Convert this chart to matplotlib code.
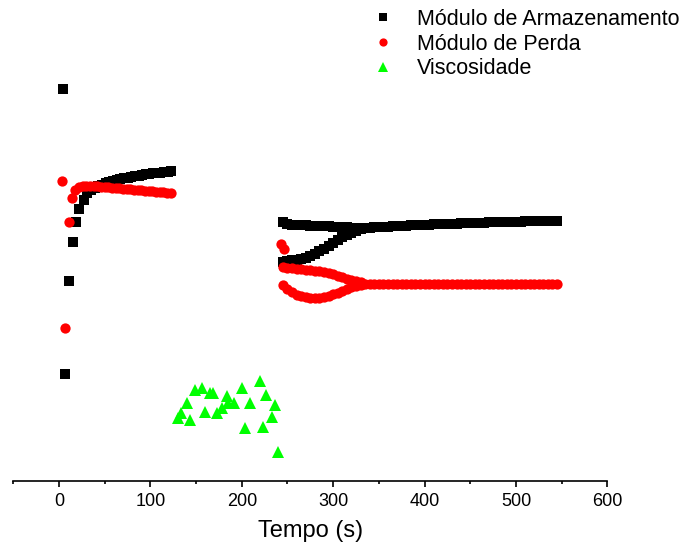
import matplotlib
matplotlib.use("Agg")
import matplotlib.pyplot as plt
from matplotlib.ticker import MultipleLocator

plt.rcParams['font.family'] = ['Liberation Sans', 'DejaVu Sans']

# Módulo de Armazenamento (first run, 0-122 s)
arm1_t = [4, 7, 11, 15, 19, 22, 27, 31,
          35, 39, 43, 47, 51, 55, 59, 63, 67, 71, 75, 79, 83, 87, 91, 95, 99, 103, 107, 111, 115, 119,
          122]
arm1_y = [3.92, 1.07, 2.00, 2.39, 2.59, 2.72, 2.81, 2.88,
          2.91, 2.93, 2.95, 2.96, 2.98, 2.99, 3.00, 3.01, 3.02, 3.03, 3.03, 3.04, 3.05, 3.05, 3.06, 3.07,
          3.07, 3.08, 3.08, 3.08, 3.09, 3.09,
          3.10]

# Módulo de Perda (first run)
per1_t = [3, 6, 11, 14, 18,
          22, 26, 30, 34, 38, 42, 46, 50, 54, 58, 62, 66, 70, 74, 78, 82, 86, 90, 94, 98, 102, 106, 110, 114, 118,
          122]
per1_y = [3.00, 1.53, 2.59, 2.83, 2.91,
          2.94, 2.95, 2.95, 2.95, 2.95, 2.95, 2.94, 2.94, 2.94, 2.93, 2.93, 2.93, 2.92, 2.92, 2.92, 2.91, 2.91,
          2.91, 2.90, 2.90, 2.90, 2.89, 2.89, 2.89, 2.88,
          2.88]

# second run, two branches before they join (245-330 s)
run2_t = [245, 250, 255, 260, 265, 270, 275, 280, 285, 290, 295, 300, 305, 310, 315, 320, 325, 330]
arm2_up = [2.59, 2.57, 2.56, 2.56, 2.56, 2.56, 2.55, 2.55, 2.55, 2.55, 2.55, 2.54, 2.54, 2.54, 2.54, 2.53, 2.53, 2.53]
arm2_low = [2.19, 2.20, 2.21, 2.21, 2.22, 2.23, 2.25, 2.27, 2.30, 2.32, 2.35, 2.38, 2.41, 2.44, 2.46, 2.48, 2.50, 2.52]
per2_up = [2.14, 2.13, 2.13, 2.12, 2.12, 2.11, 2.11, 2.10, 2.10, 2.09, 2.08, 2.07, 2.05, 2.04, 2.02, 2.01, 2.00, 1.99]
per2_low = [1.96, 1.92, 1.89, 1.86, 1.85, 1.84, 1.83, 1.83, 1.83, 1.84, 1.85, 1.87, 1.88, 1.90, 1.92, 1.94, 1.95, 1.96]
per2_first_t = [243, 246]
per2_first_y = [2.37, 2.32]

# second run after the branches join (335-545 s)
run3_t = [335, 340, 345, 350, 355, 360, 365, 370, 375, 380,
          385, 390, 395, 400, 405, 410, 415, 420, 425, 430,
          435, 440, 445, 450, 455, 460, 465, 470, 475, 480,
          485, 490, 495, 500, 505, 510, 515, 520, 525, 530,
          535, 540, 545]
arm3_y = [2.53, 2.53, 2.54, 2.54, 2.54, 2.54, 2.55, 2.55, 2.55, 2.55,
          2.56, 2.56, 2.56, 2.56, 2.56, 2.57, 2.57, 2.57, 2.57, 2.57,
          2.57, 2.58, 2.58, 2.58, 2.58, 2.58, 2.58, 2.59, 2.59, 2.59,
          2.59, 2.59, 2.59, 2.59, 2.59, 2.60, 2.60, 2.60, 2.60, 2.60,
          2.60, 2.60, 2.60]
per3_y = [1.97, 1.97, 1.97, 1.97, 1.97, 1.97, 1.97, 1.97, 1.97, 1.97,
          1.97, 1.97, 1.97, 1.97, 1.97, 1.97, 1.97, 1.97, 1.97, 1.97,
          1.97, 1.97, 1.97, 1.97, 1.97, 1.97, 1.97, 1.97, 1.97, 1.97,
          1.97, 1.97, 1.97, 1.97, 1.97, 1.97, 1.97, 1.97, 1.97, 1.97,
          1.97, 1.97, 1.97]

# Viscosidade
vis_t = [130, 134, 140, 143, 149, 156, 160, 165, 168, 173, 178, 184, 185, 192, 200, 204, 209, 220, 223, 227, 233, 236, 240]
vis_y = [0.63, 0.68, 0.78, 0.61, 0.91, 0.93, 0.69, 0.88, 0.88, 0.68, 0.73, 0.85, 0.78, 0.78, 0.93, 0.53, 0.78, 1.00,
         0.54, 0.86, 0.64, 0.76, 0.29]

fig = plt.figure(figsize=(6.91, 5.5), dpi=100)
ax = fig.add_axes([0.0193, 0.1255, 0.8596, 0.8564])

sq = dict(marker='s', color='black', ms=7.0, ls='none', mew=0)
ci = dict(marker='o', color='red', ms=7.4, ls='none', mew=0)

ax.plot(arm1_t, arm1_y, label='Módulo de Armazenamento', **sq)
ax.plot(run2_t, arm2_up, **sq)
ax.plot(run2_t, arm2_low, **sq)
ax.plot(run3_t, arm3_y, **sq)

ax.plot(per1_t, per1_y, label='Módulo de Perda', **ci)
ax.plot(per2_first_t, per2_first_y, **ci)
ax.plot(run2_t, per2_up, **ci)
ax.plot(run2_t, per2_low, **ci)
ax.plot(run3_t, per3_y, **ci)

ax.plot(vis_t, vis_y, marker='^', color='#00ff00', ms=8.5, ls='none', mew=0, label='Viscosidade')

ax.set_xlim(-50, 600)
ax.set_ylim(0, 4.71)
ax.xaxis.set_major_locator(MultipleLocator(100))
ax.xaxis.set_minor_locator(MultipleLocator(50))
ax.tick_params(axis='x', which='major', direction='out', length=4.5, width=1.2, labelsize=13, pad=4)
ax.tick_params(axis='x', which='minor', direction='out', length=2.5, width=1.2)
ax.set_yticks([])
for s in ['left', 'right', 'top']:
    ax.spines[s].set_visible(False)
ax.spines['bottom'].set_linewidth(1.2)
ax.set_xlabel('Tempo (s)', fontsize=17, labelpad=7)

fig.legend(loc='upper left', bbox_to_anchor=(372 / 691, 1 - 9 / 550), frameon=False,
           fontsize=15.5, handlelength=1.0, handletextpad=1.09, borderpad=0, borderaxespad=0,
           labelspacing=0.17, markerscale=0.8)

plt.savefig('out.png', dpi=100)
